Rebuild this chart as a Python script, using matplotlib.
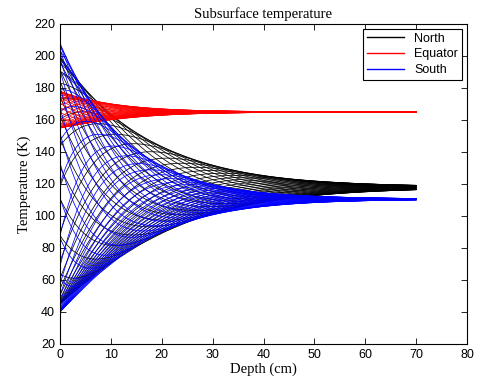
import numpy as np
import matplotlib
matplotlib.use("Agg")
import matplotlib.pyplot as plt

# ---- data ----
groups = ["North", "Equator", "South"]
colors = ["black", "red", "blue"]
deep_temp = [118.0, 165.0, 110.5]       # K, temperature the profiles converge to at depth
surface_min = [45.0, 155.0, 40.0]       # K, coldest surface temperature
surface_max = [200.0, 178.0, 208.0]     # K, hottest surface temperature
damping_depth = [17.0, 10.5, 13.0]      # cm, e-folding depth of the diurnal wave
max_depth = 70.0                        # cm
n_profiles = 40                         # profiles per latitude
x_ticks = [0, 10, 20, 30, 40, 50, 60, 70, 80]
y_ticks = [20, 40, 60, 80, 100, 120, 140, 160, 180, 200, 220]

# ---- surface temperature cycle shape (heating by day, relaxation at night) ----
M = 400
t = np.arange(M) / M
teq = np.clip(np.sin(2 * np.pi * t), 0, None) ** 0.5
tau = 0.05
dt = 1.0 / M
T = np.zeros(M)
val = 0.2
for _ in range(6):
    for i in range(M):
        val += dt * (teq[i] - val) / tau
        T[i] = val
shape = (T - T.min()) / (T.max() - T.min())
coef = np.fft.rfft(shape - shape.mean()) / M
K = 40
depth = np.linspace(0, max_depth, 141)

fig = plt.figure(figsize=(5.0, 3.86), dpi=100)
ax = fig.add_axes([0.12, 0.109, 0.814, 0.829])

idx = np.arange(n_profiles) * (M // n_profiles)
for g, c, Td, lo, hi, d in zip(groups, colors, deep_temp, surface_min,
                               surface_max, damping_depth):
    R = hi - lo
    surf_mean = lo + R * shape.mean()
    mean_prof = Td + (surf_mean - Td) * np.exp(-depth / d)
    prof = np.tile(mean_prof, (n_profiles, 1))
    for n in range(1, K):
        amp = 2 * np.abs(coef[n]) * R
        ph = np.angle(coef[n])
        k = np.sqrt(n) / d
        prof += amp * np.exp(-k * depth)[None, :] * np.cos(
            2 * np.pi * n * t[idx][:, None] + ph - k * depth[None, :])
    for j in range(n_profiles):
        ax.plot(depth, prof[j], color=c, lw=0.55,
                label=g if j == 0 else None)

ax.set_xlim(0, 80)
ax.set_ylim(20, 220)
ax.set_xticks(x_ticks)
ax.set_yticks(y_ticks)
ax.tick_params(direction="in", top=True, right=True, length=4, width=0.6,
               labelsize=9)
for lab in ax.get_xticklabels() + ax.get_yticklabels():
    lab.set_fontfamily("Liberation Sans")
for s in ax.spines.values():
    s.set_linewidth(0.8)
ax.set_title("Subsurface temperature", fontfamily="Liberation Serif",
             fontsize=10.5, pad=4)
ax.set_xlabel("Depth (cm)", fontfamily="Liberation Serif", fontsize=10.5,
              labelpad=1)
ax.set_ylabel("Temperature (K)", fontfamily="Liberation Serif", fontsize=10.5,
              labelpad=2)
leg = ax.legend(loc="upper right", fancybox=False, edgecolor="black",
                framealpha=1, prop={"family": "Liberation Sans", "size": 9},
                borderpad=0.3, labelspacing=0.3, handlelength=3.0,
                borderaxespad=0.4)
leg.get_frame().set_linewidth(0.8)
for h in leg.get_lines():
    h.set_linewidth(1.0)

fig.savefig("out.png", dpi=100)
